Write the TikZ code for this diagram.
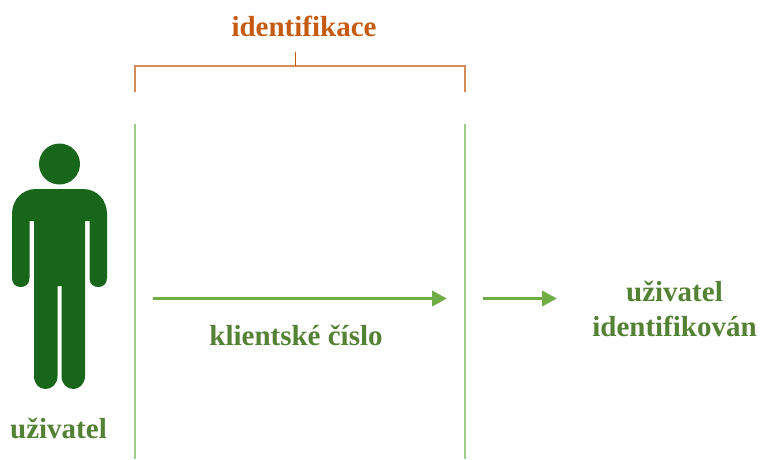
\documentclass[tikz,border=0pt]{standalone}
\usepackage{fontspec}
\setmainfont{Liberation Serif}
\usetikzlibrary{arrows.meta}
\definecolor{darkgreen}{HTML}{17661A}
\definecolor{labelgreen}{HTML}{548235}
\definecolor{arrowgreen}{HTML}{70AD47}
\definecolor{linegreen}{HTML}{A0CC84}
\definecolor{labelorange}{HTML}{C55A11}
\definecolor{lineorange}{HTML}{D68B5A}
\tikzset{
  person/.style={fill=darkgreen,draw=none},
  greenlabel/.style={font=\bfseries\fontsize{29}{35.5}\selectfont,text=labelgreen,align=center,inner sep=0pt},
  orangelabel/.style={font=\bfseries\fontsize{29}{36}\selectfont,text=labelorange,inner sep=0pt},
  bracketline/.style={draw=lineorange,line width=1.3pt},
  stemline/.style={draw=labelorange,line width=1.3pt},
  boundary/.style={draw=linegreen,line width=1.3pt},
  flowarrow/.style={draw=arrowgreen,line width=3.6pt,-{Triangle[length=15pt,width=15pt]}}
}
\begin{document}
\begin{tikzpicture}[x=1pt,y=-1pt]
\useasboundingbox (0,0) rectangle (760,459);
% person
\fill[person] (59.5,164) circle (20.5);
\fill[person] (36,189) -- (83,189)
  .. controls (97,189) and (107,200) .. (107,214)
  -- (107,278) .. controls (107,284) and (103,287) .. (98.2,287)
  .. controls (93.5,287) and (89.5,284) .. (89.5,278)
  -- (89.5,221) -- (85,221) -- (85,376)
  .. controls (85,384) and (79,389) .. (73.5,389)
  .. controls (67,389) and (61.5,384) .. (61.5,376)
  -- (61.5,286) -- (57.5,286) -- (57.5,376)
  .. controls (57.5,384) and (52,389) .. (45.5,389)
  .. controls (39,389) and (34,384) .. (34,376)
  -- (34,221) -- (29.5,221) -- (29.5,278)
  .. controls (29.5,284) and (25.5,287) .. (20.7,287)
  .. controls (16,287) and (12,284) .. (12,278)
  -- (12,214) .. controls (12,200) and (22,189) .. (36,189) -- cycle;
% labels
\node[orangelabel] (title) at (304,26) {identifikace};
\node[greenlabel] (user) at (58.5,428) {uživatel};
\node[greenlabel] (id) at (296,335) {klientské číslo};
\node[greenlabel] (done) at (674.5,309) {uživatel\\identifikován};
% bracket
\coordinate (bl) at (135,92);
\coordinate (br) at (465,92);
\coordinate (tl) at (135,66);
\coordinate (tr) at (465,66);
\coordinate (sb) at (295.7,66);
\coordinate (st) at (295.7,52);
\draw[bracketline] (bl) -- (tl) -- (tr) -- (br);
\draw[stemline] (sb) -- (st);
% boundaries
\coordinate (al) at (135,124);
\coordinate (bbl) at (135,459);
\coordinate (ar) at (465,124);
\coordinate (bbr) at (465,459);
\draw[boundary] (al) -- (bbl);
\draw[boundary] (ar) -- (bbr);
% arrows
\coordinate (a1s) at (153,298.5);
\coordinate (a1e) at (447,298.5);
\coordinate (a2s) at (483,298.5);
\coordinate (a2e) at (557,298.5);
\draw[flowarrow] (a1s) -- (a1e);
\draw[flowarrow] (a2s) -- (a2e);
\end{tikzpicture}
\end{document}
